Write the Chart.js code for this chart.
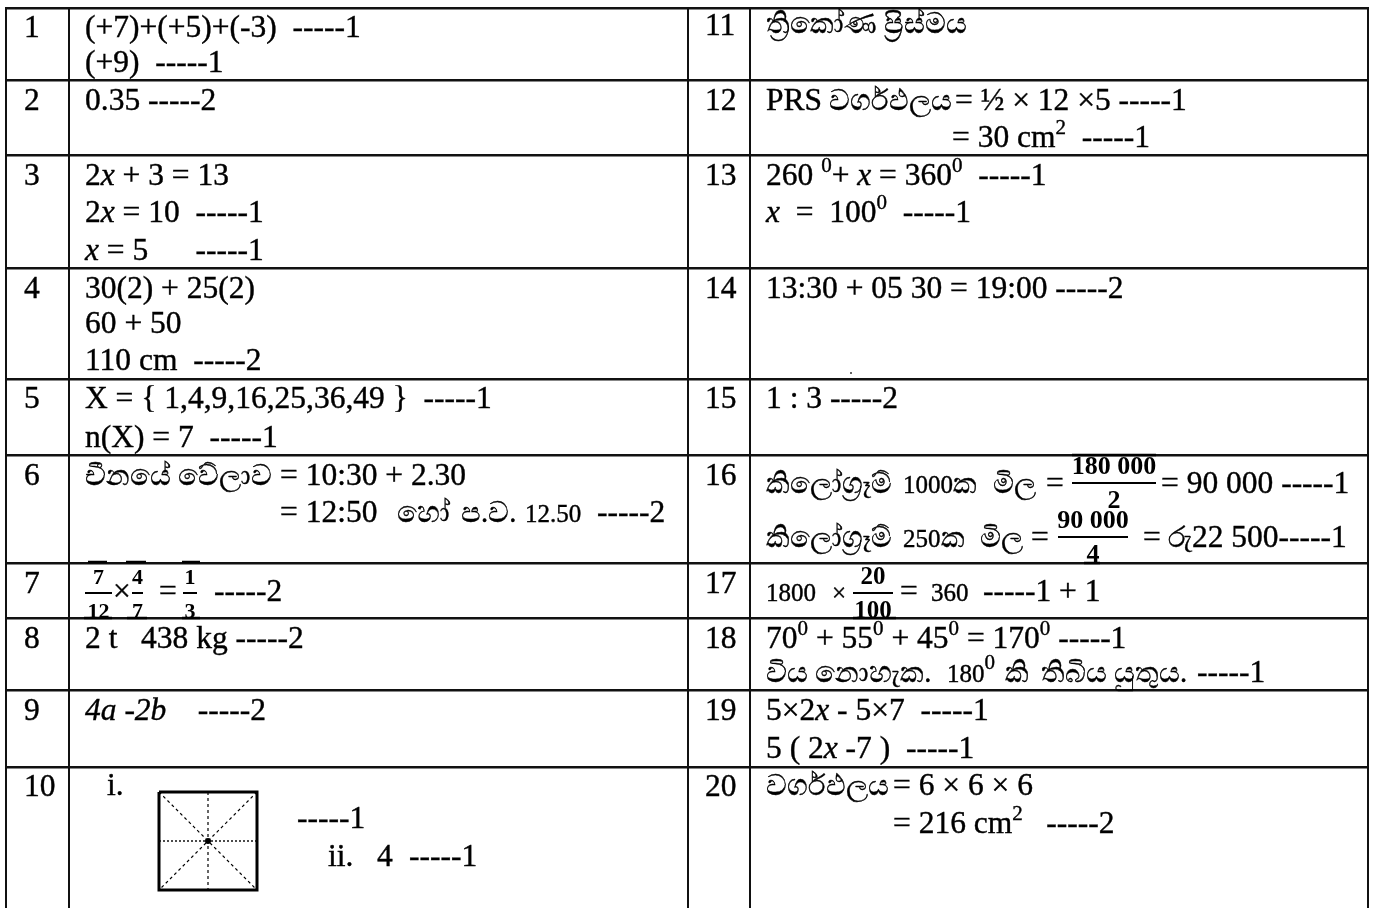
<!DOCTYPE html>
<html>
<head>
<meta charset="utf-8">
<title>Answers</title>
<script src="https://cdn.jsdelivr.net/npm/chart.js@4"></script>
<style>
  html, body { margin: 0; padding: 0; background: #fff; overflow: hidden; }
  canvas { display: block; }
</style>
</head>
<body>
<canvas id="myChart" width="1377" height="908"></canvas>
<script>
// table rules, used as the ticks of the two axes
const columnEdges = [6, 69, 688, 750, 1368];
const rowEdges = [8, 80, 155, 268, 379, 455, 563, 618, 690, 767];

const questionNumbers = ['1', '2', '3', '4', '5', '6', '7', '8', '9', '10',
    '11', '12', '13', '14', '15', '16', '17', '18', '19', '20'];
const numberX = [24, 24, 24, 24, 24, 24, 24, 24, 24, 24,
    705, 705, 705, 705, 705, 705, 705, 705, 705, 705];
const numberY = [37, 110, 185, 298, 408, 485, 593, 648, 720, 796,
    35, 110, 185, 298, 408, 485, 593, 648, 720, 796];

// *x* is italic, ^x^ is a superscript, ~x~ is the smaller type
const answerText = [
    '(+7)+(+5)+(-3)  -----1', '(+9)  -----1',
    '0.35 -----2',
    '2*x* + 3 = 13', '2*x* = 10  -----1', '*x* = 5      -----1',
    '30(2) + 25(2)', '60 + 50', '110 cm  -----2',
    'X = { 1,4,9,16,25,36,49 }  -----1', 'n(X) = 7  -----1',
    'චීනයේ වේලාව', '= 10:30 + 2.30', '= 12:50', 'හෝ', 'ප.ව.', '~12.50~', '-----2',
    '×', '=', '-----2',
    '2 t   438 kg -----2',
    '*4a -2b*    -----2',
    'i.', '-----1', 'ii.', '4', '-----1',
    'ත්‍රිකෝණ ප්‍රිස්මය',
    'PRS වර්ගඵලය', '= ½ × 12 ×5 -----1', '= 30 cm^2^  -----1',
    '260 ^0^+ *x* = 360^0^  -----1', '*x*  =  100^0^  -----1',
    '13:30 + 05 30 = 19:00 -----2',
    '1 : 3 -----2',
    'කිලෝග්‍රෑම්', '~1000~ක', 'මිල', '=', '= 90 000 -----1',
    'කිලෝග්‍රෑම්', '~250~ක', 'මිල', '=', '= රු22 500-----1',
    '~1800~', '~×~', '=', '~360~', '-----1 + 1',
    '70^0^ + 55^0^ + 45^0^ = 170^0^ -----1',
    'විය නොහැක.', '~180~^0^', 'කි', 'තිබිය', 'යුතුය.', '-----1',
    '5×2*x* - 5×7  -----1', '5 ( 2*x* -7 )  -----1',
    'වර්ගඵලය', '= 6 × 6 × 6', '= 216 cm^2^   -----2'
];
const answerX = [
    85, 85,
    85,
    85, 85, 85,
    85, 85, 85,
    85, 85,
    85, 280, 280, 397, 461, 525, 597,
    113, 159, 214,
    85,
    85,
    107, 297, 328, 377, 409,
    766,
    766, 955, 952,
    766, 766,
    766,
    766,
    766, 903, 993, 1046, 1161,
    766, 903, 980, 1031, 1143,
    766, 832, 900, 931, 983,
    766,
    766, 947, 1005, 1041, 1114, 1197,
    766, 766,
    766, 893, 893
];
const answerY = [
    37, 72,
    110,
    185, 222, 260,
    298, 333, 370,
    408, 447,
    485, 485, 522, 522, 522, 522, 522,
    601, 601, 601,
    648,
    720,
    795, 828, 866, 866, 866,
    33,
    110, 110, 147,
    185, 222,
    298,
    408,
    493, 493, 493, 493, 493,
    547, 547, 547, 547, 547,
    601, 601, 601, 601, 601,
    648,
    682, 682, 682, 682, 682, 682,
    720, 758,
    795, 795, 833
];

// stacked fractions: numerator, denominator, bar start, bar end, bar height
const fractionTop = ['7', '4', '1', '180 000', '90 000', '20'];
const fractionBottom = ['12', '7', '3', '2', '4', '100'];
const fractionStart = [85, 132, 183, 1072, 1058, 853];
const fractionEnd = [112, 143, 197, 1156, 1128, 893];
const fractionY = [593, 593, 593, 483, 537, 593];
const fractionSize = [22, 22, 22, 26, 26, 25];

// heavy bits of the scan where a pasted fraction touches a rule: y, start, end
const smudgeY = [562, 562, 562, 618, 618, 618, 455, 563, 618];
const smudgeStart = [88, 126, 182, 84, 127, 182, 1072, 1084, 853];
const smudgeEnd = [107, 146, 200, 112, 147, 200, 1156, 1100, 896];

// the square in question 10
const squareX = [159, 257];
const squareY = [792, 890];
const squareMidX = 208;
const squareMidY = 841;

// stray dust in the scan
const dustX = [1376, 851];
const dustY = [90, 373];

const mainFont = '"Liberation Serif", serif';
const mainSize = 31.5;
const smallSize = 25;
const supSize = 21;
const sinhalaSize = 28.5;

function lineDataset(points, width, dash) {
    return {
        data: points,
        showLine: true,
        pointRadius: 0,
        borderColor: '#000',
        borderWidth: width,
        borderDash: dash || [],
        clip: false
    };
}

function put(ctx, text, x, y) {
    ctx.fillText(text, x, y);
    ctx.strokeText(text, x, y);
    return ctx.measureText(text).width;
}

// plain runs keep their Sinhala letters at a slightly smaller size
function drawPlain(ctx, text, x, y, size) {
    var pieces = text.split(/([\u0D80-\u0DFF\u200D ]*[\u0D80-\u0DFF][\u0D80-\u0DFF\u200D.]*)/);
    for (var i = 0; i < pieces.length; i++) {
        if (!pieces[i]) continue;
        var sinhala = /[\u0D80-\u0DFF]/.test(pieces[i]);
        ctx.font = (sinhala ? sinhalaSize : size) + 'px ' + mainFont + ', "Noto Sans"';
        x += put(ctx, pieces[i], x, y);
    }
    return x;
}

// splits the markup into runs and draws them one after the other
function drawRich(ctx, text, x, y) {
    var parts = text.split(/(\*[^*]*\*|\^[^^]*\^|~[^~]*~)/);
    for (var i = 0; i < parts.length; i++) {
        var part = parts[i];
        if (!part) continue;
        if (part[0] === '*') {
            ctx.font = 'italic ' + mainSize + 'px ' + mainFont;
            x += put(ctx, part.slice(1, -1), x, y);
        } else if (part[0] === '^') {
            ctx.font = supSize + 'px ' + mainFont;
            x += put(ctx, part.slice(1, -1), x, y - 13);
        } else if (part[0] === '~') {
            x = drawPlain(ctx, part.slice(1, -1), x, y, smallSize);
        } else {
            x = drawPlain(ctx, part, x, y, mainSize);
        }
    }
}

const tableText = {
    id: 'tableText',
    afterDatasetsDraw: function (chart) {
        var ctx = chart.ctx;
        var xs = chart.scales.x;
        var ys = chart.scales.y;
        ctx.save();
        ctx.fillStyle = '#000';
        ctx.strokeStyle = '#000';
        ctx.lineWidth = 0.4;
        ctx.textBaseline = 'alphabetic';
        ctx.textAlign = 'left';

        for (var i = 0; i < questionNumbers.length; i++) {
            ctx.font = mainSize + 'px ' + mainFont;
            put(ctx, questionNumbers[i], xs.getPixelForValue(numberX[i]), ys.getPixelForValue(numberY[i]));
        }

        for (var j = 0; j < answerText.length; j++) {
            drawRich(ctx, answerText[j], xs.getPixelForValue(answerX[j]), ys.getPixelForValue(answerY[j]));
        }

        ctx.textAlign = 'center';
        for (var k = 0; k < fractionTop.length; k++) {
            var mid = xs.getPixelForValue((fractionStart[k] + fractionEnd[k]) / 2);
            var bar = ys.getPixelForValue(fractionY[k]);
            ctx.font = 'bold ' + fractionSize[k] + 'px ' + mainFont;
            ctx.fillText(fractionTop[k], mid, bar - 9);
            ctx.fillText(fractionBottom[k], mid, bar + 25);
        }
        ctx.restore();
    }
};

var datasets = [];
// fraction bars
for (var f = 0; f < fractionTop.length; f++) {
    datasets.push(lineDataset([
        {x: fractionStart[f], y: fractionY[f]},
        {x: fractionEnd[f], y: fractionY[f]}
    ], 2));
}
for (var s = 0; s < smudgeY.length; s++) {
    datasets.push(lineDataset([
        {x: smudgeStart[s], y: smudgeY[s]},
        {x: smudgeEnd[s], y: smudgeY[s]}
    ], 2.5));
}
// square outline and its dotted lines of symmetry
datasets.push(lineDataset([
    {x: squareX[0], y: squareY[0]}, {x: squareX[1], y: squareY[0]},
    {x: squareX[1], y: squareY[1]}, {x: squareX[0], y: squareY[1]},
    {x: squareX[0], y: squareY[0]}
], 3));
datasets.push(lineDataset([{x: squareX[0], y: squareY[0]}, {x: squareX[1], y: squareY[1]}], 1.2, [3, 3]));
datasets.push(lineDataset([{x: squareX[1], y: squareY[0]}, {x: squareX[0], y: squareY[1]}], 1.2, [3, 3]));
datasets.push(lineDataset([{x: squareMidX, y: squareY[0]}, {x: squareMidX, y: squareY[1]}], 1.2, [3, 3]));
datasets.push(lineDataset([{x: squareX[0], y: squareMidY}, {x: squareX[1], y: squareMidY}], 1.4, [2, 2]));
datasets.push({
    data: [{x: squareMidX, y: squareMidY}],
    pointRadius: 3,
    backgroundColor: '#000',
    borderWidth: 0
});
datasets.push({
    data: dustX.map(function (v, i) { return {x: v, y: dustY[i]}; }),
    pointRadius: 1,
    backgroundColor: '#333',
    borderWidth: 0,
    clip: false
});

new Chart(document.getElementById('myChart'), {
    type: 'scatter',
    data: {datasets: datasets},
    plugins: [tableText],
    options: {
        responsive: false,
        animation: false,
        layout: {autoPadding: false, padding: {left: 5, right: 8, top: 7, bottom: 0}},
        plugins: {legend: {display: false}, tooltip: {enabled: false}},
        scales: {
            x: {
                type: 'linear',
                position: 'top',
                min: 5,
                max: 1369,
                afterBuildTicks: function (axis) {
                    axis.ticks = columnEdges.map(function (v) { return {value: v}; });
                },
                ticks: {display: false},
                border: {display: false},
                grid: {color: '#111', lineWidth: 2, drawTicks: false}
            },
            y: {
                type: 'linear',
                reverse: true,
                min: 7,
                max: 908,
                afterBuildTicks: function (axis) {
                    axis.ticks = rowEdges.map(function (v) { return {value: v}; });
                },
                ticks: {display: false},
                border: {display: false},
                grid: {color: '#111', lineWidth: 2.5, drawTicks: false}
            }
        }
    }
});
</script>
</body>
</html>
